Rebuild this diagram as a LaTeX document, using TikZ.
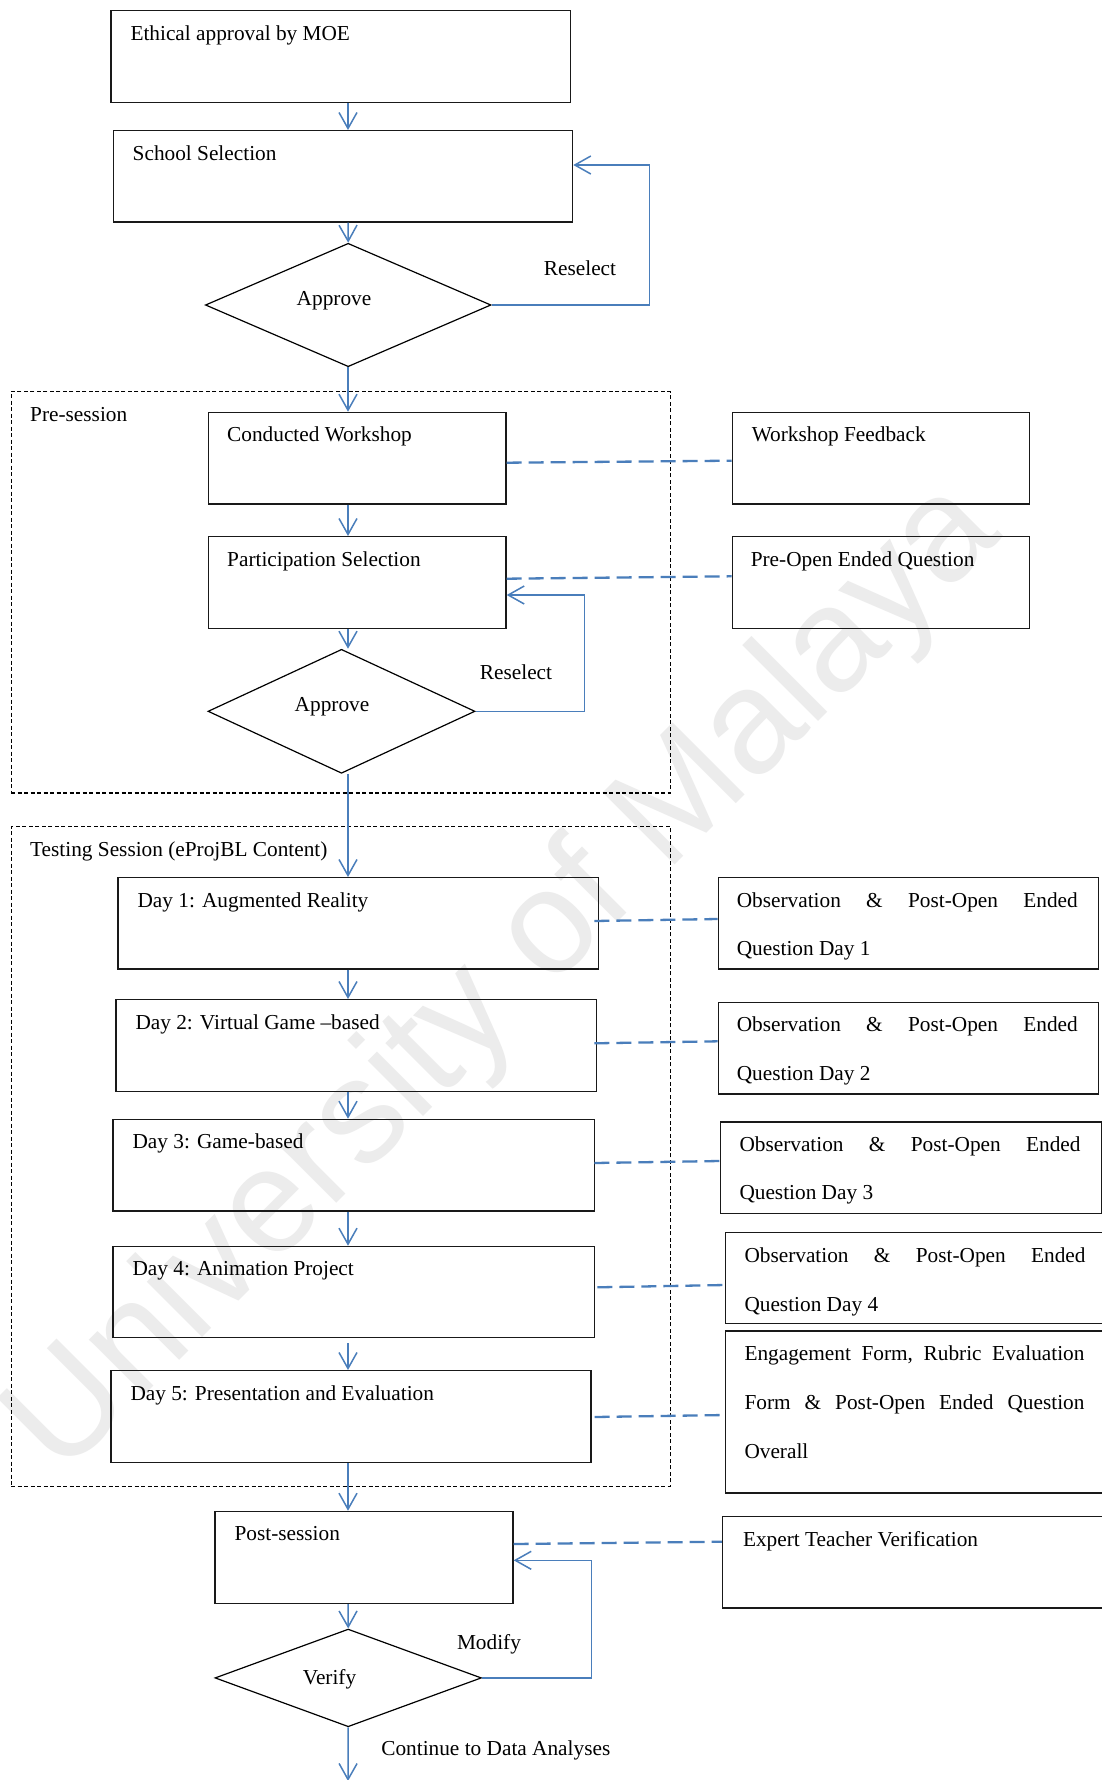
\documentclass[tikz,border=0pt]{standalone}
\usepackage{fontspec}
\setmainfont{Liberation Serif}
\newfontfamily\wmfont{Liberation Sans}
\usetikzlibrary{arrows.meta,shapes.geometric,calc}
\definecolor{cblue}{RGB}{74,126,187}
\definecolor{wmgray}{RGB}{236,236,236}
\tikzset{
  box/.style={draw=black!90, line width=1.4pt, inner sep=0pt, anchor=north west},
  grp/.style={draw=black, line width=1.2pt, dash pattern=on 4pt off 2.5pt, inner sep=0pt, anchor=north west},
  dia/.style={draw=black, diamond, line width=1.2pt, inner sep=0pt},
  txt/.style={inner sep=0pt, anchor=base west, font=\fontsize{21.3}{25}\selectfont},
  lbl/.style={inner sep=0pt, anchor=base, font=\fontsize{21.3}{25}\selectfont},
  arr/.style={draw=cblue, line width=1.5pt, -{Straight Barb[length=16pt,width=18pt]}},
  loopln/.style={draw=cblue, line width=1.5pt, -{Straight Barb[length=16pt,width=18pt]}},
  dsh/.style={draw=cblue, line width=2.3pt, dash pattern=on 15pt off 7pt},
}
\begin{document}
\begin{tikzpicture}[x=1pt,y=-1pt]
\useasboundingbox (0,0) rectangle (1102,1780);
\clip (0,0) rectangle (1102,1780);
\fill[white] (0,0) rectangle (1102,1780);

% watermark
\node[inner sep=0pt, anchor=base, rotate=45, text=wmgray, font=\wmfont\fontsize{148}{150}\selectfont] (wm) at (533,1007) {University of Malaya};

\coordinate (col) at (348,0);

% containers
\node[grp, minimum width=659.1pt, minimum height=401.6pt] (pre) at (10.5,390.7) {};
\node[grp, minimum width=659.1pt, minimum height=659.7pt] (test) at (10.5,826) {};
\node[txt] (pre-t) at ($(pre.north west)+(19.5,30.3)$) {Pre-session};
\node[txt] (test-t) at ($(test.north west)+(19.5,30)$) {Testing Session (eProjBL Content)};

% main boxes
\node[box, minimum width=459.3pt, minimum height=91.7pt] (b1) at (110.3,10) {};
\node[box, minimum width=459.4pt, minimum height=91.3pt] (b2) at (112.5,130) {};
\node[box, minimum width=297.3pt, minimum height=91.6pt] (cw) at (208,411.7) {};
\node[box, minimum width=297.3pt, minimum height=91.6pt] (wf) at (731.6,411.7) {};
\node[box, minimum width=297.3pt, minimum height=92pt] (ps) at (208,536) {};
\node[box, minimum width=297.3pt, minimum height=92pt] (po) at (731.6,536) {};
\node[box, minimum width=480.6pt, minimum height=91.3pt] (day1) at (117.4,877) {};
\node[box, minimum width=380.2pt, minimum height=91.3pt] (obs1) at (717.6,877) {};
\node[box, minimum width=480.7pt, minimum height=91.7pt] (day2) at (115.3,999) {};
\node[box, minimum width=380.2pt, minimum height=91.6pt] (obs2) at (717.6,1001.7) {};
\node[box, minimum width=481.5pt, minimum height=91.6pt] (day3) at (112.4,1118.7) {};
\node[box, minimum width=380.9pt, minimum height=91.7pt] (obs3) at (719.7,1121.3) {};
\node[box, minimum width=481.5pt, minimum height=91.3pt] (day4) at (112.4,1245.7) {};
\node[box, minimum width=385pt, minimum height=91pt] (obs4) at (724.6,1232) {};
\node[box, minimum width=480pt, minimum height=92pt] (day5) at (110.3,1370) {};
\node[box, minimum width=385pt, minimum height=162pt] (eng) at (724.6,1330.3) {};
\node[box, minimum width=297.9pt, minimum height=92pt] (post) at (214.4,1510.7) {};
\node[box, minimum width=388pt, minimum height=91.3pt] (exp) at (721.8,1516) {};

% diamonds
\node[dia, minimum width=285.6pt, minimum height=123.4pt] (d1) at (348.2,305) {};
\node[dia, minimum width=267pt, minimum height=124pt] (d2) at (341.5,711.3) {};
\node[dia, minimum width=266.4pt, minimum height=97.7pt] (dv) at (348.2,1677.9) {};

% box texts
\node[txt] (b1-t) at ($(b1.north west)+(20,30)$) {Ethical approval by MOE};
\node[txt] (b2-t) at ($(b2.north west)+(20,30)$) {School Selection};
\node[txt] (cw-t) at ($(cw.north west)+(19,30)$) {Conducted Workshop};
\node[txt] (wf-t) at ($(wf.north west)+(20,30)$) {Workshop Feedback};
\node[txt] (ps-t) at ($(ps.north west)+(19,30)$) {Participation Selection};
\node[txt] (po-t) at ($(po.north west)+(19,30)$) {Pre-Open Ended Question};
\node[txt] (day1-t) at ($(day1.north west)+(20,30)$) {Day 1: Augmented Reality};
\node[txt] (day2-t) at ($(day2.north west)+(20,30)$) {Day 2: Virtual Game –based};
\node[txt] (day3-t) at ($(day3.north west)+(20,30)$) {Day 3: Game-based};
\node[txt] (day4-t) at ($(day4.north west)+(20,30)$) {Day 4: Animation Project};
\node[txt] (day5-t) at ($(day5.north west)+(20,30)$) {Day 5: Presentation and Evaluation};
\node[txt] (post-t) at ($(post.north west)+(20,30)$) {Post-session};
\node[txt] (exp-t) at ($(exp.north west)+(21,30)$) {Expert Teacher Verification};

\node[txt] (obs1-a) at ($(obs1.north west)+(19,30)$) {\makebox[341pt][l]{Observation\hfill\&\hfill Post-Open\hfill Ended}};
\node[txt] (obs1-b) at ($(obs1.north west)+(19,78.6)$) {Question Day 1};
\node[txt] (obs2-a) at ($(obs2.north west)+(19,30)$) {\makebox[341pt][l]{Observation\hfill\&\hfill Post-Open\hfill Ended}};
\node[txt] (obs2-b) at ($(obs2.north west)+(19,78.6)$) {Question Day 2};
\node[txt] (obs3-a) at ($(obs3.north west)+(19.6,30)$) {\makebox[341pt][l]{Observation\hfill\&\hfill Post-Open\hfill Ended}};
\node[txt] (obs3-b) at ($(obs3.north west)+(19.6,78.6)$) {Question Day 3};
\node[txt] (obs4-a) at ($(obs4.north west)+(19.7,30)$) {\makebox[341pt][l]{Observation\hfill\&\hfill Post-Open\hfill Ended}};
\node[txt] (obs4-b) at ($(obs4.north west)+(19.7,79)$) {Question Day 4};
\node[txt] (eng-a) at ($(eng.north west)+(19.7,30)$) {\makebox[340pt][l]{Engagement\hfill Form,\hfill Rubric\hfill Evaluation}};
\node[txt] (eng-b) at ($(eng.north west)+(19.7,79)$) {\makebox[340pt][l]{Form\hfill\&\hfill Post-Open\hfill Ended\hfill Question}};
\node[txt] (eng-c) at ($(eng.north west)+(19.7,128.4)$) {Overall};

% diamond texts and labels
\node[lbl] (d1-t) at (334,305) {Approve};
\node[lbl] (d2-t) at (332,711) {Approve};
\node[lbl] (dv-t) at (329.6,1684) {Verify};
\node[lbl] (rs1) at (580,275) {Reselect};
\node[lbl] (rs2) at (516,679) {Reselect};
\node[lbl] (mod) at (489,1649) {Modify};
\node[lbl] (cont) at (495.8,1755) {Continue to Data Analyses};

% dashed links
\draw[dsh] ($(cw.north east)+(0,51)$) -- ($(wf.north west)+(0,49)$);
\draw[dsh] ($(ps.north east)+(0,42.7)$) -- ($(po.north west)+(0,40.3)$);
\draw[dsh] ($(day1.north east)+(-5,44)$) -- ($(obs1.north west)+(0,42)$);
\draw[dsh] ($(day2.north east)+(-3,44.3)$) -- ($(obs2.north west)+(0,39.6)$);
\draw[dsh] ($(day3.north east)+(-1,44.3)$) -- ($(obs3.north west)+(0,39.7)$);
\draw[dsh] ($(day4.north east)+(2,41.6)$) -- ($(obs4.north west)+(0,53)$);
\draw[dsh] ($(day5.north east)+(3,47)$) -- ($(eng.north west)+(0,84.7)$);
\draw[dsh] ($(post.north east)+(0,33.3)$) -- ($(exp.north west)+(0,25.7)$);

% main flow arrows
\draw[arr] (b1.south -| col) -- (b2.north -| col);
\draw[arr] (b2.south -| col) -- (d1.north);
\draw[arr] (d1.south -| col) -- (cw.north -| col);
\draw[arr] (cw.south -| col) -- (ps.north -| col);
\draw[arr] (ps.south -| col) -- (d2.north -| col);
\draw[arr] (d2.south -| col) -- (day1.north -| col);
\draw[arr] (day1.south -| col) -- (day2.north -| col);
\draw[arr] (day2.south -| col) -- (day3.north -| col);
\draw[arr] (day3.south -| col) -- (day4.north -| col);
\draw[arr, shorten <=5pt] (day4.south -| col) -- (day5.north -| col);
\draw[arr] (day5.south -| col) -- (post.north -| col);
\draw[arr] (post.south -| col) -- (dv.north);
\coordinate (end) at (348,1781);
\draw[arr] (dv.south) -- (end);

% loops
\coordinate (r1) at (649.6,165);
\coordinate (r2) at (584.7,595);
\coordinate (r3) at (591.7,1560.3);
\draw[loopln] (d1.east) -| (r1) -- (b2.east |- r1);
\draw[loopln] (d2.east) -| (r2) -- (ps.east |- r2);
\draw[loopln] (dv.east) -| (r3) -- (post.east |- r3);
\end{tikzpicture}
\end{document}
